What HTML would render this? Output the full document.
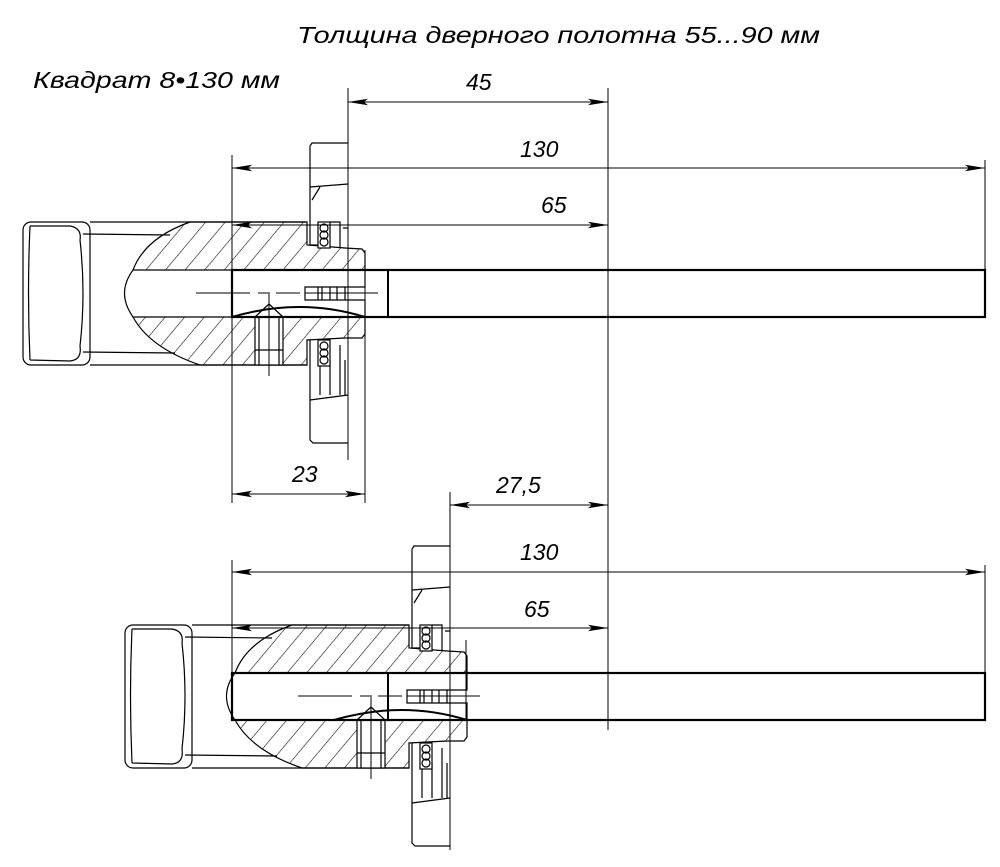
<!DOCTYPE html>
<html><head><meta charset="utf-8"><style>html,body{margin:0;padding:0;background:#fff}svg{display:block}</style></head>
<body>
<svg width="1000" height="867" viewBox="0 0 1000 867" xmlns="http://www.w3.org/2000/svg" font-family="Liberation Sans, DejaVu Sans, sans-serif" font-style="italic">
<defs>
<pattern id="h" patternUnits="userSpaceOnUse" width="15" height="15" patternTransform="rotate(40)">
<line x1="0" y1="0" x2="0" y2="15" stroke="#000" stroke-width="1.1"/>
</pattern>
<marker id="a" viewBox="0 0 20 8" refX="20" refY="4" markerWidth="20" markerHeight="8" markerUnits="userSpaceOnUse" orient="auto-start-reverse">
<path d="M0,0.8 L20,4 L0,7.2 L4,4 Z" fill="#000"/>
</marker>
<g id="asm" fill="none" stroke="#000" stroke-width="1.2">
<rect x="23" y="222" width="67" height="143" rx="8" fill="#fff"/>
<path d="M30,226 Q27,293 30,360 M70,226 Q82,228 80,240 Q86,293 80,346 Q82,360 70,361 M30,226 L70,226 M30,360 L70,361"/>
<path d="M90,222 L307,222 M90,365 L307,365 M83,234 L170,235 M83,352 L175,353"/>
<path d="M190,222 L307,222 L307,245 L345,248 L362,249 L365,253 L365,270 L133,270 Q145,238 190,222 Z" fill="url(#h)"/>
<path d="M133,317 L365,317 L365,334 L362,338 L345,338 L307,340 L307,365 L200,365 Q150,348 133,317 Z" fill="url(#h)"/>
<path d="M133,270 Q116,293 133,317"/>
<rect x="255" y="317" width="28" height="48" fill="#fff"/>
<path d="M259,317 L259,365 M279,317 L279,365 M255,350 L283,350 M255,317 L269,304 L283,317"/>
<path d="M269,292 L269,376" stroke-width="1"/>
<path d="M232,317 Q300,297 365,317" stroke-width="2"/>
<path d="M196,293 L250,293 M258,293 L268,293 M276,293 L300,293 M305,293 L378,293" stroke-width="1"/>
<path d="M305,287 L345,287 L345,300 L305,300 Z M318,287 L318,300 M322,287 L322,300 M330,287 L330,300 M337,287 L337,300"/>
<path d="M365,270 L365,287 L345,287 M365,317 L365,300 L345,300"/>
<path d="M310,146 L312,143 L348,143 M310,146 L310,245 L320,245 L320,222 M310,187 L348,184 M312,200 L320,187" fill="#fff"/>
<rect x="318" y="222" width="12" height="26" fill="#fff"/>
<circle cx="324" cy="228" r="4"/><circle cx="324" cy="235" r="4"/><circle cx="324" cy="242" r="4"/>
<path d="M330,222 L340,222 L340,248 M343,228 L348,228"/>
<path d="M310,340 L310,440 L313,443 L348,443 M310,400 L348,395 M320,340 L320,395 M330,360 L330,395 M340,345 L340,395 M345,360 L345,395"/>
<rect x="318" y="340" width="12" height="26" fill="#fff"/>
<circle cx="324" cy="346" r="4"/><circle cx="324" cy="353" r="4"/><circle cx="324" cy="360" r="4"/>
</g>
</defs>

<g fill="none" stroke="#000" stroke-width="1">
<path d="M232,155 L232,503 M348,88 L348,460 M365,250 L365,503 M608,88 L608,505 M985,160 L985,270"/>
<path d="M232,560 L232,720 M450,492 L450,850 M466,640 L466,720 M608,492 L608,730 M985,565 L985,673"/>
</g>

<use href="#asm"/>
<rect x="232" y="270" width="753" height="47" fill="none" stroke="#000" stroke-width="2.2"/>
<line x1="388" y1="270" x2="388" y2="317" stroke="#000" stroke-width="2"/>

<use href="#asm" transform="translate(102,403)"/>
<rect x="232" y="673" width="753" height="47" fill="none" stroke="#000" stroke-width="2.2"/>
<line x1="388" y1="673" x2="388" y2="720" stroke="#000" stroke-width="2"/>

<g stroke="#000" stroke-width="1" marker-start="url(#a)" marker-end="url(#a)">
<line x1="348" y1="102" x2="608" y2="102"/>
<line x1="232" y1="168" x2="985" y2="168"/>
<line x1="232" y1="225" x2="608" y2="225"/>
<line x1="232" y1="494" x2="365" y2="494"/>
<line x1="450" y1="505" x2="608" y2="505"/>
<line x1="232" y1="572" x2="985" y2="572"/>
<line x1="232" y1="628" x2="608" y2="628"/>
</g>

<g font-size="23" fill="#000">
<text x="297" y="43" textLength="523" lengthAdjust="spacingAndGlyphs">Толщина дверного полотна 55...90 мм</text>
<text x="33" y="88" textLength="247" lengthAdjust="spacingAndGlyphs">Квадрат 8•130 мм</text>
<text x="466" y="90">45</text>
<text x="520" y="157">130</text>
<text x="541" y="213">65</text>
<text x="292" y="482">23</text>
<text x="496" y="493">27,5</text>
<text x="520" y="560">130</text>
<text x="524" y="617">65</text>
</g>
</svg>
</body></html>
